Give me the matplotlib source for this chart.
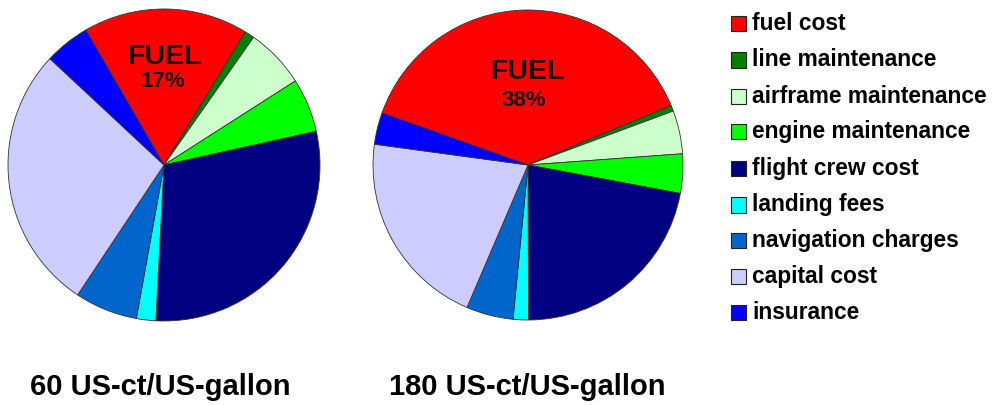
import matplotlib
matplotlib.use("Agg")
import matplotlib.pyplot as plt
from matplotlib.patches import Rectangle

categories = ["fuel cost", "line maintenance", "airframe maintenance",
              "engine maintenance", "flight crew cost", "landing fees",
              "navigation charges", "capital cost", "insurance"]
colors = ["#FF0000", "#007F00", "#CCFFCC", "#00FF00", "#000080",
          "#00FFFF", "#0066CC", "#CCCCFF", "#0000FF"]
shares_60 = [17.1, 1.0, 6.2, 5.6, 29.3, 2.0, 6.5, 27.6, 4.7]
shares_180 = [38.3, 0.6, 4.5, 4.1, 22.0, 1.6, 4.9, 20.7, 3.3]
fuel_labels = ["17%", "38%"]
captions = ["60 US-ct/US-gallon", "180 US-ct/US-gallon"]

W, H = 994, 405
plt.rcParams['font.family'] = ['Liberation Sans', 'DejaVu Sans']
fig = plt.figure(figsize=(W / 100, H / 100), dpi=100)
fig.patch.set_facecolor("white")

def fx(px):
    return px / W

def fy(py):
    return (H - py) / H

pies = [
    dict(vals=shares_60, cx=164, cy=165, r=156, start=120.1,
         fuel_xy=(164, 57.5), pct_xy=(163, 81.5), cap_x=160.5),
    dict(vals=shares_180, cx=528, cy=165, r=155, start=160.4,
         fuel_xy=(527, 72), pct_xy=(524, 100), cap_x=527.5),
]

for i, p in enumerate(pies):
    ax = fig.add_axes([fx(p["cx"] - p["r"]), fy(p["cy"] + p["r"]),
                       2 * p["r"] / W, 2 * p["r"] / H])
    ax.pie(p["vals"], colors=colors, startangle=p["start"], counterclock=False,
           radius=1.0, wedgeprops=dict(edgecolor="#333333", linewidth=0.6))
    ax.set_xlim(-1.0, 1.0)
    ax.set_ylim(-1.0, 1.0)
    ax.set_aspect("auto")
    ax.axis("off")
    fig.text(fx(p["fuel_xy"][0]), fy(p["fuel_xy"][1]), "FUEL", ha="center",
             va="center", fontsize=20.5, fontweight="bold", color="#1a0000")
    fig.text(fx(p["pct_xy"][0]), fy(p["pct_xy"][1]), fuel_labels[i], ha="center",
             va="center", fontsize=16, fontweight="bold", color="#1a0000")
    fig.text(fx(p["cap_x"]), fy(395), captions[i], ha="center", va="baseline",
             fontsize=21, fontweight="bold", color="black")

# legend
row_y = [23.3, 60, 96.7, 131.7, 168.3, 205, 240, 276, 312.7]
for cat, col, yy in zip(categories, colors, row_y):
    fig.patches.append(Rectangle((fx(731), fy(yy + 7.5)), 15 / W, 15 / H,
                                 transform=fig.transFigure, facecolor=col,
                                 edgecolor="#222222", linewidth=0.8))
    fig.text(fx(752), fy(yy), cat, ha="left", va="center", fontsize=16.4,
             fontweight="bold", color="black")

fig.savefig("out.png", dpi=100, facecolor="white")
